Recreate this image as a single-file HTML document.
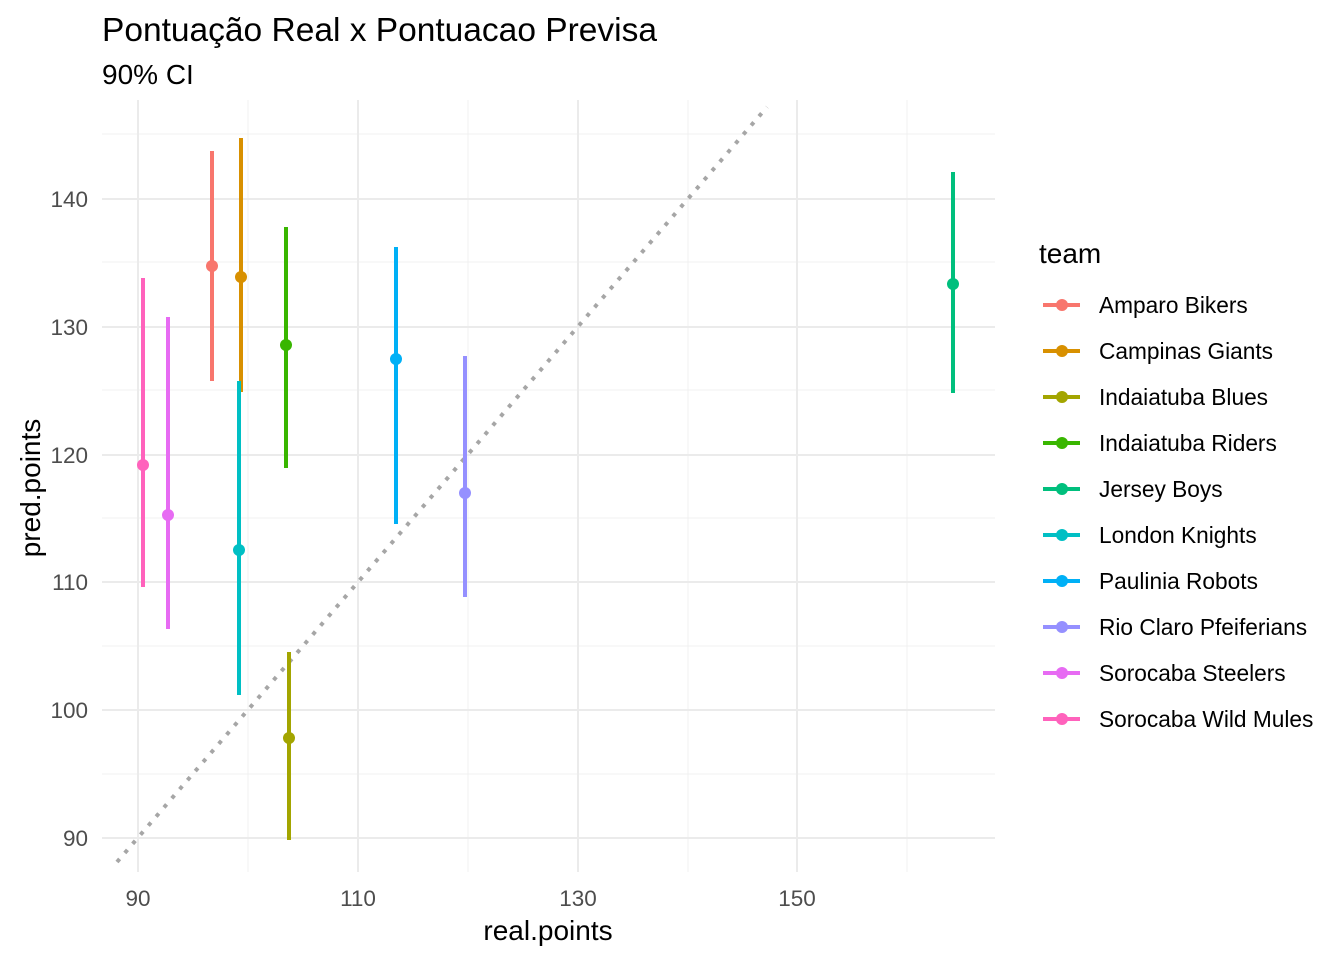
<!DOCTYPE html>
<html><head><meta charset="utf-8"><style>body{margin:0;background:#fff}svg{display:block}text{font-family:"Liberation Sans",Arial,sans-serif}</style></head><body>
<svg width="1344" height="960" xmlns="http://www.w3.org/2000/svg">
<g stroke="#f0f0f0" stroke-width="1">
<line x1="102" x2="995" y1="774" y2="774"/><line x1="102" x2="995" y1="646" y2="646"/><line x1="102" x2="995" y1="518" y2="518"/><line x1="102" x2="995" y1="390" y2="390"/><line x1="102" x2="995" y1="262" y2="262"/><line x1="102" x2="995" y1="134" y2="134"/>
<line y1="100" y2="872" x1="248" x2="248"/><line y1="100" y2="872" x1="468" x2="468"/><line y1="100" y2="872" x1="688" x2="688"/><line y1="100" y2="872" x1="907" x2="907"/>
</g>
<g stroke="#ebebeb" stroke-width="2">
<line x1="102" x2="995" y1="838" y2="838"/><line x1="102" x2="995" y1="710" y2="710"/><line x1="102" x2="995" y1="582" y2="582"/><line x1="102" x2="995" y1="455" y2="455"/><line x1="102" x2="995" y1="327" y2="327"/><line x1="102" x2="995" y1="199" y2="199"/>
<line y1="100" y2="872" x1="138" x2="138"/><line y1="100" y2="872" x1="358" x2="358"/><line y1="100" y2="872" x1="578" x2="578"/><line y1="100" y2="872" x1="797" x2="797"/>
</g>
<line x1="117" y1="862" x2="767" y2="107" stroke="#a6a6a6" stroke-width="4" stroke-dasharray="4 8"/>
<g stroke-width="4">
<line x1="212" x2="212" y1="151" y2="381" stroke="#F8766D"/><circle cx="212" cy="266" r="6" fill="#F8766D"/>
<line x1="241" x2="241" y1="138" y2="392" stroke="#D89000"/><circle cx="241" cy="277" r="6" fill="#D89000"/>
<line x1="289" x2="289" y1="652" y2="840" stroke="#A3A500"/><circle cx="289" cy="738" r="6" fill="#A3A500"/>
<line x1="286" x2="286" y1="227" y2="468" stroke="#39B600"/><circle cx="286" cy="345" r="6" fill="#39B600"/>
<line x1="953" x2="953" y1="172" y2="393" stroke="#00BF7D"/><circle cx="953" cy="284" r="6" fill="#00BF7D"/>
<line x1="239" x2="239" y1="381" y2="695" stroke="#00BFC4"/><circle cx="239" cy="550" r="6" fill="#00BFC4"/>
<line x1="396" x2="396" y1="247" y2="524" stroke="#00B0F6"/><circle cx="396" cy="359" r="6" fill="#00B0F6"/>
<line x1="465" x2="465" y1="356" y2="597" stroke="#9590FF"/><circle cx="465" cy="493" r="6" fill="#9590FF"/>
<line x1="168" x2="168" y1="317" y2="629" stroke="#E76BF3"/><circle cx="168" cy="515" r="6" fill="#E76BF3"/>
<line x1="143" x2="143" y1="278" y2="587" stroke="#FF62BC"/><circle cx="143" cy="465" r="6" fill="#FF62BC"/>
</g>
<g font-size="22.5" fill="#4d4d4d" text-anchor="end">
<text x="88" y="846">90</text><text x="88" y="718">100</text><text x="88" y="590">110</text><text x="88" y="463">120</text><text x="88" y="335">130</text><text x="88" y="207">140</text>
</g>
<g font-size="22.5" fill="#4d4d4d" text-anchor="middle">
<text x="138" y="906">90</text><text x="358" y="906">110</text><text x="578" y="906">130</text><text x="797" y="906">150</text>
</g>
<text x="548" y="940" font-size="28" text-anchor="middle">real.points</text>
<text transform="translate(40,488) rotate(-90)" font-size="28" text-anchor="middle">pred.points</text>
<text x="102" y="41" font-size="33.5">Pontuação Real x Pontuacao Previsa</text>
<text x="102" y="84" font-size="28">90% CI</text>
<text x="1039" y="263" font-size="28">team</text>
<g font-size="22.7" stroke-width="4">
<line x1="1043" x2="1080" y1="305" y2="305" stroke="#F8766D"/><circle cx="1062" cy="305" r="6" fill="#F8766D"/><text x="1099" y="313">Amparo Bikers</text>
<line x1="1043" x2="1080" y1="351" y2="351" stroke="#D89000"/><circle cx="1062" cy="351" r="6" fill="#D89000"/><text x="1099" y="359">Campinas Giants</text>
<line x1="1043" x2="1080" y1="397" y2="397" stroke="#A3A500"/><circle cx="1062" cy="397" r="6" fill="#A3A500"/><text x="1099" y="405">Indaiatuba Blues</text>
<line x1="1043" x2="1080" y1="443" y2="443" stroke="#39B600"/><circle cx="1062" cy="443" r="6" fill="#39B600"/><text x="1099" y="451">Indaiatuba Riders</text>
<line x1="1043" x2="1080" y1="489" y2="489" stroke="#00BF7D"/><circle cx="1062" cy="489" r="6" fill="#00BF7D"/><text x="1099" y="497">Jersey Boys</text>
<line x1="1043" x2="1080" y1="535" y2="535" stroke="#00BFC4"/><circle cx="1062" cy="535" r="6" fill="#00BFC4"/><text x="1099" y="543">London Knights</text>
<line x1="1043" x2="1080" y1="581" y2="581" stroke="#00B0F6"/><circle cx="1062" cy="581" r="6" fill="#00B0F6"/><text x="1099" y="589">Paulinia Robots</text>
<line x1="1043" x2="1080" y1="627" y2="627" stroke="#9590FF"/><circle cx="1062" cy="627" r="6" fill="#9590FF"/><text x="1099" y="635">Rio Claro Pfeiferians</text>
<line x1="1043" x2="1080" y1="673" y2="673" stroke="#E76BF3"/><circle cx="1062" cy="673" r="6" fill="#E76BF3"/><text x="1099" y="681">Sorocaba Steelers</text>
<line x1="1043" x2="1080" y1="719" y2="719" stroke="#FF62BC"/><circle cx="1062" cy="719" r="6" fill="#FF62BC"/><text x="1099" y="727">Sorocaba Wild Mules</text>
</g>
</svg>
</body></html>
